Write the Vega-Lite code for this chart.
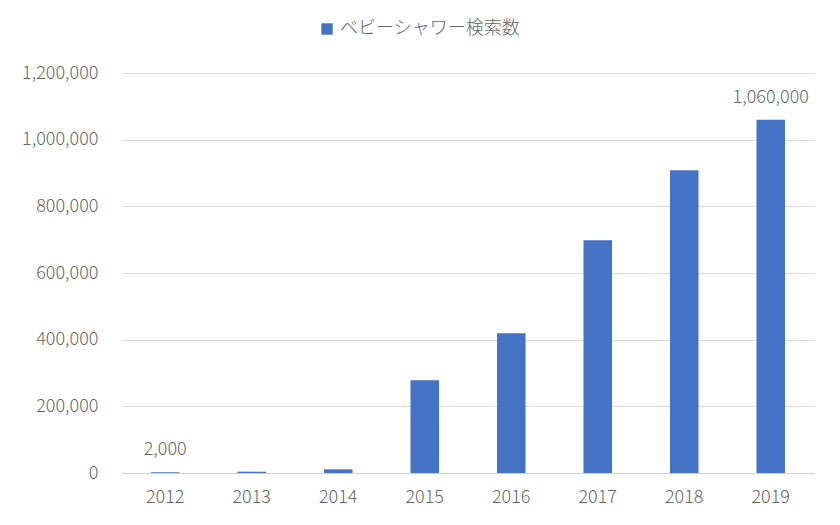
{
  "$schema": "https://vega.github.io/schema/vega-lite/v6.json",
  "width": 692,
  "height": 400,
  "autosize": "none",
  "padding": {"left": 122, "top": 73, "right": 26, "bottom": 52},
  "background": "white",
  "data": {
    "values": [
      {"year": "2012", "count": 2000, "series": "ベビーシャワー検索数"},
      {"year": "2013", "count": 4000, "series": "ベビーシャワー検索数"},
      {"year": "2014", "count": 11000, "series": "ベビーシャワー検索数"},
      {"year": "2015", "count": 278000, "series": "ベビーシャワー検索数"},
      {"year": "2016", "count": 419000, "series": "ベビーシャワー検索数"},
      {"year": "2017", "count": 698000, "series": "ベビーシャワー検索数"},
      {"year": "2018", "count": 908000, "series": "ベビーシャワー検索数"},
      {"year": "2019", "count": 1060000, "series": "ベビーシャワー検索数"}
    ]
  },
  "encoding": {
    "x": {
      "field": "year",
      "type": "ordinal",
      "title": null,
      "scale": {"paddingInner": 0.67, "paddingOuter": 0.335},
      "axis": {
        "labelAngle": 0,
        "ticks": false,
        "domain": true,
        "domainColor": "#d0d0d0",
        "labelFontSize": 18,
        "labelFontWeight": 300,
        "labelColor": "#666666",
        "labelPadding": 15,
        "labelFont": "Noto Sans CJK JP"
      }
    },
    "y": {
      "field": "count",
      "type": "quantitative",
      "title": null,
      "scale": {"domain": [0, 1200000]},
      "axis": {
        "values": [0, 200000, 400000, 600000, 800000, 1000000, 1200000],
        "format": ",d",
        "domain": false,
        "ticks": false,
        "gridColor": "#d9d9d9",
        "labelFontSize": 18,
        "labelFontWeight": 300,
        "labelColor": "#666666",
        "labelPadding": 24,
        "labelFont": "Noto Sans CJK JP"
      }
    }
  },
  "layer": [
    {
      "mark": {"type": "bar"},
      "encoding": {
        "color": {
          "field": "series",
          "type": "nominal",
          "scale": {"range": ["#4472c4"]},
          "legend": {
            "title": null,
            "orient": "none",
            "legendX": 196,
            "legendY": -53,
            "symbolType": "square",
            "symbolSize": 130,
            "symbolStrokeWidth": 0,
            "labelLimit": 400,
            "labelFontSize": 18,
            "labelFontWeight": 300,
            "labelColor": "#666666",
            "labelFont": "Noto Sans CJK JP"
          }
        }
      }
    },
    {
      "transform": [{"filter": {"field": "year", "oneOf": ["2012", "2019"]}}],
      "mark": {
        "type": "text",
        "baseline": "bottom",
        "dy": -13,
        "fontSize": 18,
        "fontWeight": 300,
        "color": "#666666",
        "font": "Noto Sans CJK JP"
      },
      "encoding": {
        "text": {"field": "count", "type": "quantitative", "format": ",d"}
      }
    }
  ],
  "config": {"view": {"stroke": null}}
}
